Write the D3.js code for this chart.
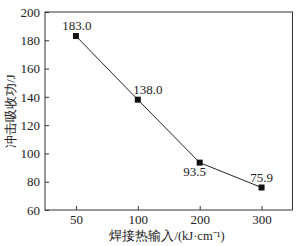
<!DOCTYPE html>
<html><head><meta charset="utf-8">
<script src="https://cdn.jsdelivr.net/npm/d3@7/dist/d3.min.js"></script>
<style>body{margin:0;background:#fff}svg{display:block}text{font-family:"Liberation Serif","Times New Roman",serif;fill:#222}</style>
</head><body>
<script>
const categories = ["50","100","200","300"];
const values = [183.0, 138.0, 93.5, 75.9];
const valueLabels = ["183.0","138.0","93.5","75.9"];
const yTicks = [60,80,100,120,140,160,180,200];
const xTitle = "焊接热输入/(kJ·cm⁻¹)";
const yTitle = "冲击吸收功/J";

const W=301,H=246,L=45,T=12,R=292.5,B=210;
const svg=d3.select("body").append("svg").attr("width",W).attr("height",H);
const x=d3.scalePoint().domain(categories).range([L,R]).padding(0.5);
const y=d3.scaleLinear().domain([60,200]).range([B,T]);

svg.append("rect").attr("x",L).attr("y",T).attr("width",R-L).attr("height",B-T)
  .attr("fill","none").attr("stroke","#333").attr("stroke-width",1);

const ya=svg.append("g").attr("transform",`translate(${L},0)`)
  .call(d3.axisRight(y).tickValues(yTicks).tickSize(4).tickFormat(d3.format("d")));
ya.select(".domain").remove();
ya.selectAll("line").attr("stroke","#333");
ya.selectAll("text").attr("x",-5).attr("text-anchor","end").attr("font-size",13).attr("fill","#222");

const xa=svg.append("g").attr("transform",`translate(0,${B})`)
  .call(d3.axisTop(x).tickSize(4));
xa.select(".domain").remove();
xa.selectAll("line").attr("stroke","#333");
xa.selectAll("text").attr("y",14).attr("dy","0").attr("font-size",13).attr("fill","#222");

const data=categories.map((c,i)=>({c,v:values[i],l:valueLabels[i]}));
svg.append("path").datum(data).attr("fill","none").attr("stroke","#222").attr("stroke-width",1)
  .attr("d",d3.line().x(d=>x(d.c)).y(d=>y(d.v)));
svg.selectAll(".m").data(data).join("rect").attr("x",d=>x(d.c)-3).attr("y",d=>y(d.v)-3)
  .attr("width",6).attr("height",6).attr("fill","#111");

const off=[[1,-6],[10,-6],[-5,13],[0,-6]];
svg.selectAll(".lbl").data(data).join("text").attr("x",(d,i)=>x(d.c)+off[i][0]).attr("y",(d,i)=>y(d.v)+off[i][1])
  .attr("text-anchor","middle").attr("font-size",13).text(d=>d.l);

svg.append("text").attr("x",167).attr("y",240).attr("text-anchor","middle").attr("font-size",12.5).text(xTitle);
svg.append("text").attr("transform","translate(15,111) rotate(-90)").attr("text-anchor","middle").attr("font-size",12.5).text(yTitle);
</script>
</body></html>
